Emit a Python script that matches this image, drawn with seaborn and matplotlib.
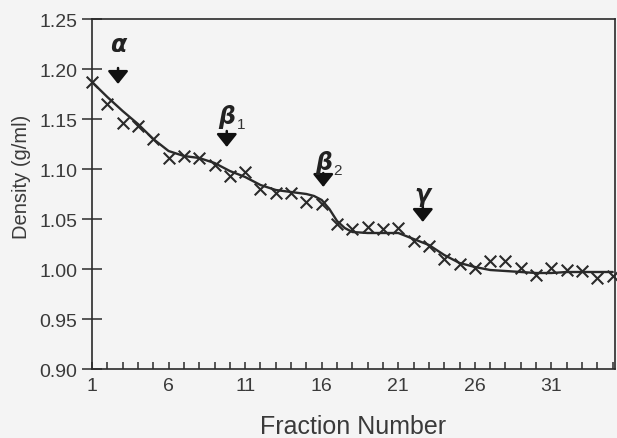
import matplotlib
matplotlib.use("Agg")
import matplotlib.pyplot as plt
import seaborn as sns
import numpy as np

# Measured points (fraction number, density g/ml)
fractions = list(range(1, 36))
density = [1.187, 1.165, 1.146, 1.143, 1.130, 1.111, 1.113, 1.111, 1.104, 1.093,
           1.097, 1.080, 1.076, 1.076, 1.067, 1.065, 1.045, 1.040, 1.042, 1.040,
           1.041, 1.028, 1.023, 1.010, 1.005, 1.001, 1.008, 1.008, 1.001, 0.994,
           1.001, 0.999, 0.998, 0.991, 0.993]

# Smooth fitted curve
curve_x = [1, 2, 3, 4, 5, 6, 7, 8, 9, 10, 11, 12, 13, 14, 15, 15.5, 16, 16.5, 17, 17.5,
           18, 19, 20, 21, 22, 23, 24, 25, 26, 27, 28, 29, 30, 31, 32, 33, 34, 35]
curve_y = [1.187, 1.172, 1.158, 1.145, 1.130, 1.118, 1.113, 1.111, 1.106, 1.098,
           1.092, 1.084, 1.079, 1.077, 1.075, 1.073, 1.069, 1.060, 1.048, 1.041,
           1.037, 1.036, 1.036, 1.036, 1.030, 1.024, 1.014, 1.006, 1.002, 0.999,
           0.998, 0.997, 0.996, 0.996, 0.997, 0.997, 0.997, 0.997]

# Peak markers: label, subscript, fraction, label y, arrow top, arrow tip
peak_labels = ["α", "β", "β", "γ"]
peak_subs = ["", "1", "2", ""]
peak_x = [2.7, 9.8, 16.1, 22.6]
peak_label_y = [1.225, 1.153, 1.107, 1.075]
peak_arrow_top = [1.201, 1.138, 1.096, 1.063]
peak_arrow_tip = [1.185, 1.122, 1.082, 1.047]

x_major = [1, 6, 11, 16, 21, 26, 31]
y_ticks = [0.90, 0.95, 1.00, 1.05, 1.10, 1.15, 1.20, 1.25]

sns.set_theme(style="ticks")
plt.rcParams['font.family'] = ['Liberation Sans', 'DejaVu Sans']
bg = "#f4f4f4"
ink = "#2a2a2a"
txt = "#3a3a3a"

fig = plt.figure(figsize=(6.17, 4.39), dpi=100, facecolor=bg)
ax = fig.add_axes([92/617, 1-370/439, (615-92)/617, 350/439])
ax.set_facecolor(bg)

sns.lineplot(x=curve_x, y=curve_y, ax=ax, color=ink, linewidth=1.7, sort=True)
sns.scatterplot(x=fractions, y=density, ax=ax, marker="x", s=70, color=ink,
                linewidth=1.5, zorder=3, clip_on=False)

ax.set_xlim(1, 35.15)
ax.set_ylim(0.90, 1.25)

ax.set_xticks(x_major)
ax.set_xticklabels([str(v) for v in x_major])
ax.set_xticks(fractions, minor=True)
ax.set_yticks(y_ticks)
ax.set_yticklabels([f"{v:.2f}" for v in y_ticks])

ax.tick_params(axis="x", which="both", direction="in", length=5, width=1.1,
               color=ink, labelsize=14, labelcolor=txt, pad=6)
ax.tick_params(axis="y", which="major", direction="inout", length=15, width=1.1,
               color=ink, labelsize=14, labelcolor=txt, pad=3)
ax.tick_params(axis="y", which="minor", left=False)

for s in ax.spines.values():
    s.set_visible(True)
    s.set_linewidth(1.2)
    s.set_color(ink)

ax.set_xlabel("Fraction Number", fontsize=18, color=txt, labelpad=14)
ax.set_ylabel("Density (g/ml)", fontsize=14.5, color=txt)
ax.yaxis.set_label_coords(-0.117, 0.551)

for lab, sub, x, ly, at, tip in zip(peak_labels, peak_subs, peak_x, peak_label_y,
                                     peak_arrow_top, peak_arrow_tip):
    ax.annotate("", xy=(x, tip), xytext=(x, at),
                arrowprops=dict(arrowstyle="-|>,head_width=0.48,head_length=0.6",
                                mutation_scale=13, color="#111111", lw=1.8,
                                shrinkA=0, shrinkB=0))
    ax.text(x, ly, lab, ha="center", va="center", fontsize=17, fontweight="bold",
            fontstyle="italic", color="#222222", family=["DejaVu Sans"])
    if sub:
        ax.annotate(sub, xy=(x, ly), xytext=(7.5, -6), textcoords="offset points",
                    ha="left", va="center", fontsize=11, color="#333333")

fig.savefig("out.png", dpi=100, facecolor=bg)
